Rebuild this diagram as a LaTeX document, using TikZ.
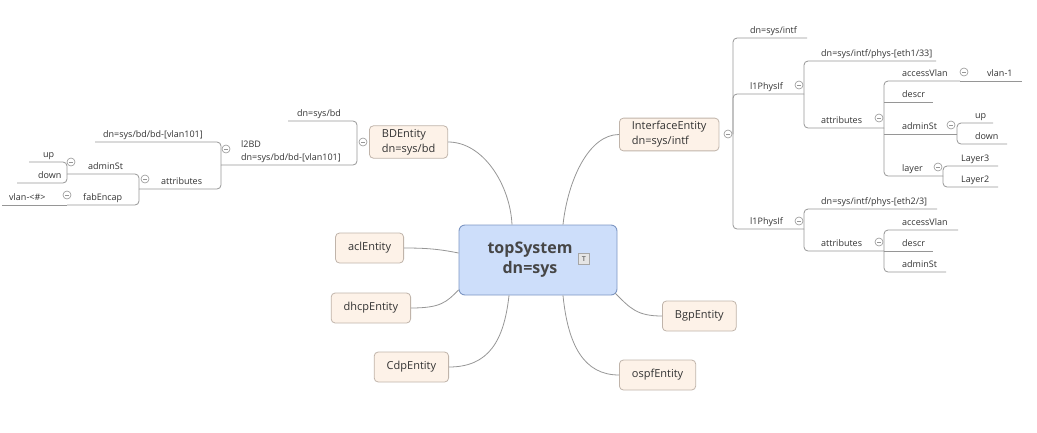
\documentclass[tikz,border=0pt]{standalone}
\usepackage{fontspec}
\setmainfont{Open Sans}
\usepackage{tikz}

\definecolor{linegray}{RGB}{150,150,150}
\definecolor{txtgray}{RGB}{50,50,50}
\definecolor{topfill}{RGB}{205,222,250}
\definecolor{topline}{RGB}{125,150,195}
\definecolor{entfill}{RGB}{253,242,232}
\definecolor{entline}{RGB}{192,180,170}

\tikzset{
    topbox/.style={draw=topline, fill=topfill, rounded corners=6pt, line width=0.9pt, minimum width=158pt, minimum height=70pt},
    toplabel/.style={align=center, inner sep=0pt, font=\fontsize{16}{20}\selectfont\bfseries, text=txtgray!90!white},
    noteicon/.style={draw=gray!70, fill=gray!20, minimum size=11pt, inner sep=0pt, font=\fontsize{7}{7}\selectfont\bfseries, text=gray},
    entity/.style={draw=entline, fill=entfill, rounded corners=4pt, line width=0.8pt, minimum height=30pt, inner xsep=12.5pt, font=\fontsize{11}{15}\selectfont, text=txtgray, align=left},
    spoke/.style={draw=linegray, line width=0.8pt},
    branch/.style={draw=linegray, line width=0.8pt, rounded corners=4pt},
    leaf/.style={anchor=base west, inner sep=0pt, yshift=5pt, font=\fontsize{9}{13}\selectfont, text=txtgray},
    leafblock/.style={anchor=south west, inner sep=0pt, yshift=2.5pt, align=left, font=\fontsize{9}{13}\selectfont, text=txtgray},
    fold/.style={circle, draw=linegray, fill=white, line width=0.6pt, minimum size=8pt, inner sep=0pt,
        path picture={\draw[linegray, line width=0.6pt] ([xshift=-2pt]path picture bounding box.center) -- ([xshift=2pt]path picture bounding box.center);}}
}

\begin{document}
\begin{tikzpicture}[x=1pt, y=-1pt]
    \useasboundingbox (0,0) rectangle (1037,432);

    % central topic
    \node[topbox] (top) at (538,260) {};
    \node[toplabel] (topLabel) at (530,260) {topSystem\\dn=sys};
    \node[noteicon] (topIcon) at (584,259) {T};

    % first level
    \node[entity, anchor=west] (bd) at (369,142) {BDEntity\\dn=sys/bd};
    \node[entity, anchor=west] (ie) at (619,134.5) {InterfaceEntity\\dn=sys/intf};
    \node[entity, anchor=east] (acl) at (404,248) {aclEntity};
    \node[entity, anchor=east] (dhcp) at (411,308) {dhcpEntity};
    \node[entity, anchor=east] (cdp) at (449,367) {CdpEntity};
    \node[entity, anchor=west] (bgp) at (662,316) {BgpEntity};
    \node[entity, anchor=west] (ospf) at (619,375) {ospfEntity};

    \draw[spoke] ([xshift=-26pt]top.north) .. controls +(-2,-40) and +(35,0) .. (bd.east);
    \draw[spoke] ([xshift=25pt]top.north) .. controls +(5,-45) and +(-30,0) .. (ie.west);
    \draw[spoke] ([yshift=7pt]top.west) .. controls +(-20,-4) and +(22,0) .. (acl.east);
    \draw[spoke] ([yshift=-30pt]top.west) .. controls +(-12,12) and +(30,0) .. (dhcp.east);
    \draw[spoke] ([xshift=-29pt]top.south) .. controls +(-5,45) and +(40,0) .. (cdp.east);
    \draw[spoke] ([xshift=25pt]top.south) .. controls +(5,50) and +(-35,0) .. (ospf.west);
    \draw[spoke] ([xshift=-2pt,yshift=2pt]top.south east) .. controls +(15,15) and +(-25,0) .. (bgp.west);

    % BDEntity subtree
    \coordinate (bdHub) at (357,142);
    \coordinate (bdDnTip) at (288,121);
    \coordinate (l2bdHub) at (221,165);
    \coordinate (l2bdDnTip) at (95,142);
    \coordinate (attrHub) at (139,189);
    \coordinate (admHub) at (67,174);
    \coordinate (upTip) at (29,162);
    \coordinate (downTip) at (17,183);
    \coordinate (fabHub) at (67,205);
    \coordinate (vlanTip) at (2,205);

    \draw[branch] (bdHub) |- (bdDnTip);
    \draw[branch] (bdHub) |- (l2bdHub);
    \draw[branch] (l2bdHub) |- (l2bdDnTip);
    \draw[branch] (l2bdHub) |- (attrHub);
    \draw[branch] (attrHub) |- (admHub);
    \draw[branch] (attrHub) |- (fabHub);
    \draw[branch] (admHub) |- (upTip);
    \draw[branch] (admHub) |- (downTip);
    \draw[branch] (fabHub) -- (vlanTip);

    \node[leaf] (bdDn) at (297,121) {dn=sys/bd};
    \node[leafblock] (l2bd) at (241,165) {l2BD\\dn=sys/bd/bd-[vlan101]};
    \node[leaf] (l2bdDn) at (103,142) {dn=sys/bd/bd-[vlan101]};
    \node[leaf] (attr) at (161,189) {attributes};
    \node[leaf] (adm) at (88,174) {adminSt};
    \node[leaf] (up) at (43,162) {up};
    \node[leaf] (down) at (38,183) {down};
    \node[leaf] (fab) at (83,205) {fabEncap};
    \node[leaf] (vlan) at (9,205) {vlan-<\#>};

    \node[fold] (bdFold) at (363,142) {};
    \node[fold] (l2bdFold) at (226,149) {};
    \node[fold] (attrFold) at (145,179) {};
    \node[fold] (admFold) at (71,162) {};
    \node[fold] (fabFold) at (67,195) {};

    % InterfaceEntity subtree
    \coordinate (ieHub) at (733,134);
    \coordinate (ieDnTip) at (807,38);
    \coordinate (phyAHub) at (804,94);
    \coordinate (phyADnTip) at (936,61);
    \coordinate (attrAHub) at (884,128);
    \coordinate (accAHub) at (960,81);
    \coordinate (vlanOneTip) at (1022,81);
    \coordinate (descrATip) at (933,102);
    \coordinate (admAHub) at (957,134);
    \coordinate (upATip) at (993,123);
    \coordinate (downATip) at (1007,144);
    \coordinate (layerHub) at (943,176);
    \coordinate (lThreeTip) at (998,166);
    \coordinate (lTwoTip) at (998,187);
    \coordinate (phyBHub) at (804,229);
    \coordinate (phyBDnTip) at (937,209);
    \coordinate (attrBHub) at (884,251);
    \coordinate (accBTip) at (958,230);
    \coordinate (descrBTip) at (933,251);
    \coordinate (admBTip) at (946,272);

    \draw[branch] (ieHub) |- (ieDnTip);
    \draw[branch] (ieHub) |- (phyAHub);
    \draw[branch] (ieHub) |- (phyBHub);
    \draw[branch] (phyAHub) |- (phyADnTip);
    \draw[branch] (phyAHub) |- (attrAHub);
    \draw[branch] (attrAHub) |- (accAHub);
    \draw[branch] (accAHub) -- (vlanOneTip);
    \draw[branch] (attrAHub |- descrATip) -- (descrATip);
    \draw[branch] (attrAHub |- admAHub) -- (admAHub);
    \draw[branch] (attrAHub) |- (layerHub);
    \draw[branch] (admAHub) |- (upATip);
    \draw[branch] (admAHub) |- (downATip);
    \draw[branch] (layerHub) |- (lThreeTip);
    \draw[branch] (layerHub) |- (lTwoTip);
    \draw[branch] (phyBHub) |- (phyBDnTip);
    \draw[branch] (phyBHub) |- (attrBHub);
    \draw[branch] (attrBHub) |- (accBTip);
    \draw[branch] (attrBHub) -- (descrBTip);
    \draw[branch] (attrBHub) |- (admBTip);

    \node[leaf] (ieDn) at (750,38) {dn=sys/intf};
    \node[leaf] (phyA) at (750,94) {l1PhysIf};
    \node[leaf] (phyADn) at (821,61) {dn=sys/intf/phys-[eth1/33]};
    \node[leaf] (attrA) at (821,128) {attributes};
    \node[leaf] (accA) at (902,81) {accessVlan};
    \node[leaf] (vlanOne) at (987,81) {vlan-1};
    \node[leaf] (descrA) at (902,102) {descr};
    \node[leaf] (admA) at (902,134) {adminSt};
    \node[leaf] (upA) at (975,123) {up};
    \node[leaf] (downA) at (975,144) {down};
    \node[leaf] (layer) at (902,176) {layer};
    \node[leaf] (lThree) at (961,166) {Layer3};
    \node[leaf] (lTwo) at (961,187) {Layer2};
    \node[leaf] (phyB) at (750,229) {l1PhysIf};
    \node[leaf] (phyBDn) at (821,209) {dn=sys/intf/phys-[eth2/3]};
    \node[leaf] (attrB) at (821,251) {attributes};
    \node[leaf] (accB) at (902,230) {accessVlan};
    \node[leaf] (descrB) at (902,251) {descr};
    \node[leaf] (admB) at (902,272) {adminSt};

    \node[fold] (ieFold) at (728,134) {};
    \node[fold] (phyAFold) at (799,85) {};
    \node[fold] (attrAFold) at (879,118) {};
    \node[fold] (accAFold) at (964,72) {};
    \node[fold] (admAFold) at (951,125) {};
    \node[fold] (layerFold) at (938,167) {};
    \node[fold] (phyBFold) at (799,221) {};
    \node[fold] (attrBFold) at (879,242) {};
\end{tikzpicture}
\end{document}
